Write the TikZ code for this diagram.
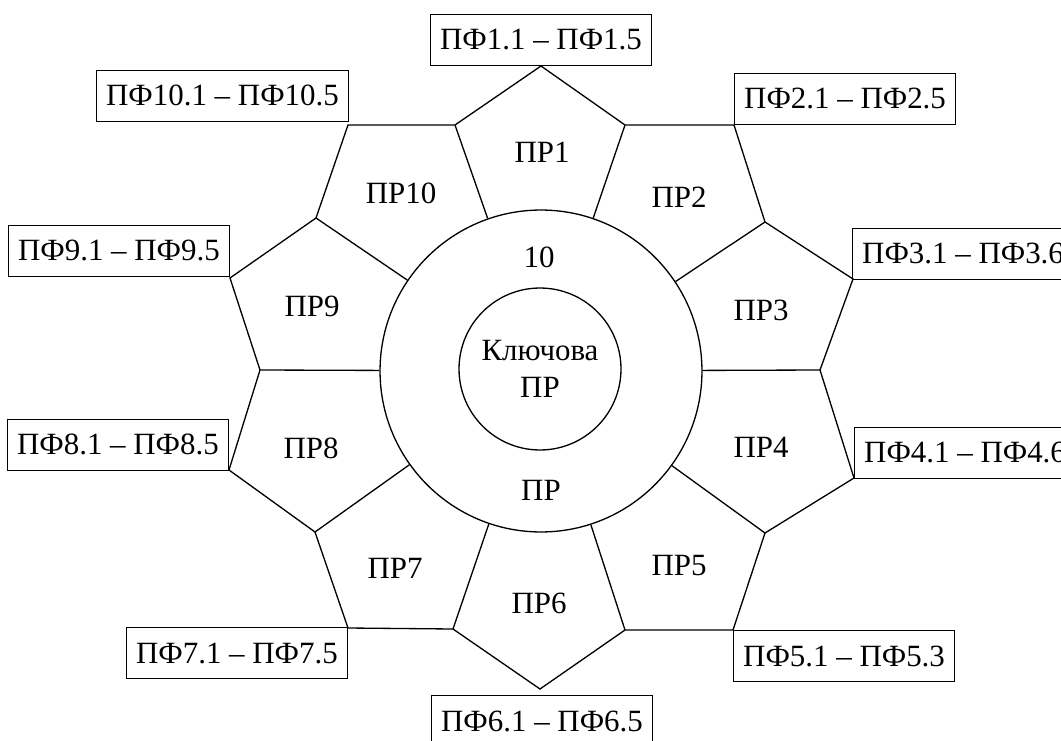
\documentclass[tikz,border=0pt]{standalone}
\usepackage{fontspec}
\setmainfont{Liberation Serif}
\usepackage{tikz}

\begin{document}
\begin{tikzpicture}[
    x=0.02cm, y=-0.02cm,
    every node/.style={font=\fontsize{17.6}{21}\selectfont},
    edge/.style={line width=0.75pt},
    pfbox/.style={draw, line width=0.8pt, minimum height=1.02cm,
                  inner xsep=5.4pt, inner ysep=0pt},
    circ/.style={draw, circle, line width=0.75pt, inner sep=0pt, align=center}
]
\clip (0,0) rectangle (1061,740);

\node[circ, minimum size=6.44cm] (ring) at (541,371) {};
\node[circ, minimum size=3.24cm] (key) at (540,369) {Ключова\\ПР};
\node (ringtop) at (539,257) {10};
\node (ringbot) at (541,490) {ПР};

% inner corners of the petals
\coordinate (v1) at (625,125);
\coordinate (v2) at (765,222);
\coordinate (v3) at (820,370);
\coordinate (v4) at (765,533);
\coordinate (v5) at (625,630);
\coordinate (v6) at (453,629);
\coordinate (v7) at (315,532);
\coordinate (v8) at (260,370);
\coordinate (v9) at (316,218);
\coordinate (v10) at (455,125);

% outer points of the petals
\coordinate (p1) at (541,66);
\coordinate (p2) at (734,125);
\coordinate (p3) at (853,279);
\coordinate (p4) at (854,478);
\coordinate (p5) at (733,630);
\coordinate (p6) at (540,689);
\coordinate (p7) at (348,628);
\coordinate (p8) at (229,470);
\coordinate (p9) at (230,278);
\coordinate (p10) at (348,125);

\draw[edge] (v10) -- (p1) -- (v1) -- (p2) -- (v2) -- (p3) -- (v3) -- (p4) -- (v4) -- (p5)
    -- (v5) -- (p6) -- (v6) -- (p7) -- (v7) -- (p8) -- (v8) -- (p9) -- (v9) -- (p10) -- cycle;
\foreach \i in {1,...,10}
    \draw[edge] (ring) -- (v\i);

\node (pr1) at (542,152) {ПР1};
\node (pr2) at (679,197) {ПР2};
\node (pr3) at (761,310) {ПР3};
\node (pr4) at (761,447) {ПР4};
\node (pr5) at (679,566) {ПР5};
\node (pr6) at (539,603) {ПР6};
\node (pr7) at (395,568) {ПР7};
\node (pr8) at (311,448) {ПР8};
\node (pr9) at (312,306) {ПР9};
\node (pr10) at (401,193) {ПР10};

\node[pfbox, anchor=south] (pf1) at (p1) {ПФ1.1 – ПФ1.5};
\node[pfbox, anchor=south west] (pf2) at (734,125) {ПФ2.1 – ПФ2.5};
\node[pfbox, anchor=south west] (pf3) at (852,280) {ПФ3.1 – ПФ3.6};
\node[pfbox, anchor=south west] (pf4) at (854,479) {ПФ4.1 – ПФ4.6};
\node[pfbox, anchor=north west] (pf5) at (733,630) {ПФ5.1 – ПФ5.3};
\node[pfbox, anchor=north] (pf6) at (542,695) {ПФ6.1 – ПФ6.5};
\node[pfbox, anchor=north east] (pf7) at (348,627) {ПФ7.1 – ПФ7.5};
\node[pfbox, anchor=south east] (pf8) at (229,471) {ПФ8.1 – ПФ8.5};
\node[pfbox, anchor=south east] (pf9) at (230,277) {ПФ9.1 – ПФ9.5};
\node[pfbox, anchor=south east] (pf10) at (349,122) {ПФ10.1 – ПФ10.5};
\end{tikzpicture}
\end{document}
